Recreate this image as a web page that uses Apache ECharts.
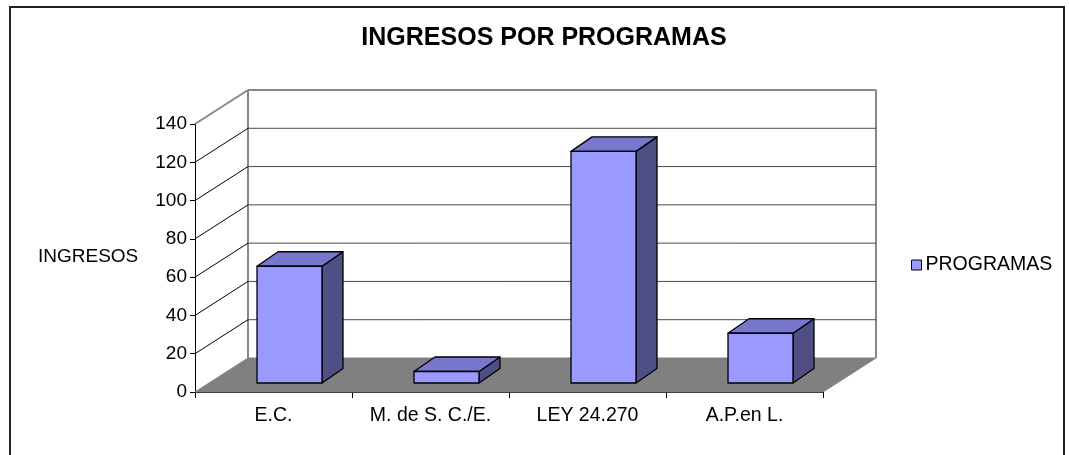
<!DOCTYPE html>
<html>
<head>
<meta charset="utf-8">
<script src="https://cdn.jsdelivr.net/npm/echarts@6/dist/echarts.min.js"></script>
<style>html,body{margin:0;padding:0;background:#fff;}#c{width:1069px;height:455px;}</style>
</head>
<body>
<div id="c"></div>
<script>
var categories = ['E.C.', 'M. de S. C./E.', 'LEY 24.270', 'A.P.en L.'];
var ingresos = [61, 6, 121, 26];
var yTicks = [0, 20, 40, 60, 80, 100, 120, 140];
var seriesName = 'PROGRAMAS';
var titleText = 'INGRESOS POR PROGRAMAS';
var axisName = 'INGRESOS';

var FONT = "'Liberation Sans', Arial, sans-serif";
var WALL_DX = 53, WALL_DY = -34;      // back wall offset
var BAR_DX = 16, BAR_DY = -9;         // bar front offset into depth
var BAR_DEPTH_DX = 21, BAR_DEPTH_DY = -14.5;

var chart = echarts.init(document.getElementById('c'));

function wallItem(params, api) {
  var cs = params.coordSys;
  var L = cs.x, R = cs.x + cs.width;
  var v = api.value(1);
  var y = api.coord([0, v])[1];
  var yMax = api.coord([0, yTicks[yTicks.length - 1]])[1];
  var children = [];
  if (v === 0) {
    children.push({
      type: 'polygon',
      shape: { points: [[L, y], [R, y], [R + WALL_DX, y + WALL_DY], [L + WALL_DX, y + WALL_DY]] },
      style: { fill: '#808080', stroke: '#808080', lineWidth: 1 }
    });
    children.push({
      type: 'line',
      shape: { x1: L + WALL_DX, y1: y + WALL_DY, x2: L + WALL_DX, y2: yMax + WALL_DY },
      style: { stroke: '#888888', lineWidth: 2 }
    });
    children.push({
      type: 'line',
      shape: { x1: R + WALL_DX, y1: y + WALL_DY, x2: R + WALL_DX, y2: yMax + WALL_DY },
      style: { stroke: '#888888', lineWidth: 2 }
    });
  } else {
    var top = v === yTicks[yTicks.length - 1];
    children.push({
      type: 'line',
      shape: { x1: L, y1: y, x2: L + WALL_DX, y2: y + WALL_DY },
      style: { stroke: top ? '#888888' : '#000000', lineWidth: top ? 2 : 1 }
    });
    children.push({
      type: 'line',
      shape: { x1: L + WALL_DX, y1: y + WALL_DY, x2: R + WALL_DX, y2: y + WALL_DY },
      style: { stroke: top ? '#888888' : '#4a4a4a', lineWidth: top ? 2 : 1 }
    });
  }
  return { type: 'group', children: children };
}

function barItem(params, api) {
  var i = api.value(0), v = api.value(1);
  var p0 = api.coord([i, 0]);
  var p1 = api.coord([i, v]);
  var w = api.size([1, 0])[0] * 0.414;
  var cx = p0[0] + BAR_DX;
  var by = p0[1] + BAR_DY;
  var ty = p1[1] + BAR_DY;
  var x0 = cx - w / 2, x1 = cx + w / 2;
  var ddx = BAR_DEPTH_DX, ddy = BAR_DEPTH_DY;
  var st = { stroke: '#000', lineWidth: 1.3, lineJoin: 'round' };
  return {
    type: 'group',
    children: [
      { type: 'polygon', shape: { points: [[x1, ty], [x1, by], [x1 + ddx, by + ddy], [x1 + ddx, ty + ddy]] },
        style: Object.assign({ fill: '#4f4f86' }, st) },
      { type: 'polygon', shape: { points: [[x0, ty], [x1, ty], [x1 + ddx, ty + ddy], [x0 + ddx, ty + ddy]] },
        style: Object.assign({ fill: '#7777cc' }, st) },
      { type: 'rect', shape: { x: x0, y: ty, width: w, height: by - ty },
        style: Object.assign({ fill: '#9999ff' }, st) }
    ]
  };
}

chart.setOption({
  animation: false,
  backgroundColor: '#fff',
  title: {
    text: titleText,
    left: 539, top: 21, textAlign: 'center',
    textStyle: { fontFamily: FONT, fontSize: 25, fontWeight: 'bold', color: '#000' }
  },
  legend: {
    data: [seriesName],
    left: 906, top: 250,
    icon: 'rect', itemWidth: 10, itemHeight: 10, itemGap: 6,
    itemStyle: { color: '#9999ff', borderColor: '#000', borderWidth: 1 },
    textStyle: { fontFamily: FONT, fontSize: 19.5, color: '#000', padding: [0, 0, 0, -1] }
  },
  grid: { left: 195, top: 124, width: 628, height: 268 },
  xAxis: {
    type: 'category',
    data: categories,
    axisLine: { lineStyle: { color: '#000', width: 1 } },
    axisTick: { show: true, interval: 0, length: 6, lineStyle: { color: '#000' } },
    axisLabel: { interval: 0, hideOverlap: false, margin: 14, fontFamily: FONT, fontSize: 19.5, color: '#000' },
    splitLine: { show: false }
  },
  yAxis: {
    type: 'value', min: 0, max: 140, interval: 20,
    axisLine: { show: true, lineStyle: { color: '#000', width: 1 } },
    axisTick: { show: true, length: 5, lineStyle: { color: '#000' } },
    axisLabel: { margin: 8, fontFamily: FONT, fontSize: 19, color: '#000' },
    splitLine: { show: false }
  },
  graphic: [
    { type: 'rect', shape: { x: 10, y: 7, width: 1054, height: 470 },
      style: { fill: null, stroke: '#222', lineWidth: 2 }, z: 100, silent: true },
    { type: 'text', left: 38, top: 247,
      style: { text: axisName, fontFamily: FONT, fontSize: 19, fill: '#000' } }
  ],
  series: [
    {
      type: 'custom', name: '_walls', z: 1, silent: true,
      renderItem: wallItem,
      data: yTicks.map(function (t) { return [0, t]; })
    },
    {
      type: 'custom', name: seriesName, z: 3,
      itemStyle: { color: '#9999ff' },
      renderItem: barItem,
      data: ingresos.map(function (v, i) { return [i, v]; })
    }
  ]
});
</script>
</body>
</html>
